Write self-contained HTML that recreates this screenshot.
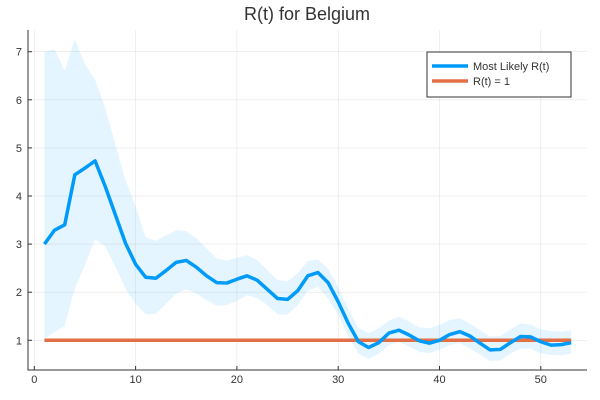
<!DOCTYPE html>
<html><head><meta charset="utf-8"><style>
body{margin:0;background:#fff}
svg{font-family:"Liberation Sans",sans-serif;display:block}
</style></head><body>
<svg id="chart" width="600" height="400" viewBox="0 0 600 400">
<rect width="600" height="400" fill="#fff"/>
<text x="307" y="20" text-anchor="middle" font-size="18" fill="#333">R(t) for Belgium</text>
<g id="grid"></g>
<path id="band" fill="#0099ff" fill-opacity="0.1"/>
<polyline id="one" fill="none" stroke="#e26f46" stroke-width="3.5"/>
<polyline id="mean" fill="none" stroke="#009af9" stroke-width="3.5" stroke-linejoin="round"/>
<g id="axes"></g>
<g>
<rect x="427" y="52" width="144" height="45" fill="#fff" stroke="#333" stroke-width="1"/>
<line x1="432" y1="66" x2="468" y2="66" stroke="#009af9" stroke-width="3.5"/>
<text x="473" y="70" font-size="11" fill="#333">Most Likely R(t)</text>
<line x1="432" y1="81" x2="468" y2="81" stroke="#e26f46" stroke-width="3.5"/>
<text x="473" y="85" font-size="11" fill="#333">R(t) = 1</text>
</g>
</svg>
<script>
const meanVals=[3.00,3.29,3.40,4.44,4.58,4.73,4.20,3.61,3.02,2.58,2.31,2.29,2.45,2.62,2.66,2.52,2.34,2.20,2.19,2.27,2.34,2.25,2.06,1.87,1.85,2.03,2.34,2.41,2.20,1.80,1.35,0.97,0.85,0.95,1.15,1.21,1.11,0.99,0.94,1.00,1.12,1.18,1.09,0.94,0.80,0.81,0.95,1.08,1.07,0.97,0.90,0.91,0.95];
const upperVals=[7.0,7.05,6.6,7.26,6.74,6.42,5.83,5.07,4.34,3.78,3.14,3.07,3.18,3.29,3.27,3.12,2.91,2.70,2.66,2.72,2.77,2.67,2.46,2.25,2.23,2.39,2.65,2.68,2.49,2.11,1.66,1.25,1.15,1.25,1.41,1.49,1.39,1.27,1.25,1.32,1.42,1.46,1.35,1.21,1.08,1.09,1.23,1.35,1.33,1.23,1.19,1.18,1.21];
const lowerVals=[1.03,1.17,1.30,2.08,2.56,3.10,2.95,2.53,2.08,1.76,1.54,1.55,1.76,1.97,2.06,1.97,1.83,1.72,1.73,1.82,1.94,1.88,1.73,1.54,1.54,1.73,2.03,2.11,1.87,1.53,1.08,0.72,0.61,0.72,0.90,0.97,0.87,0.76,0.73,0.80,0.90,0.94,0.83,0.70,0.57,0.58,0.72,0.83,0.83,0.73,0.70,0.69,0.72];
const xTicks=[0,10,20,30,40,50];
const yTicks=[1,2,3,4,5,6,7];
const X=t=>34.3+t*10.13, Y=v=>340.3-(v-1)*48.1;
const NS="http://www.w3.org/2000/svg";
const L=28,R=587,T=30,B=370;
const grid=document.getElementById('grid'),axes=document.getElementById('axes');
function mk(tag,attrs,parent){const e=document.createElementNS(NS,tag);for(const k in attrs)e.setAttribute(k,attrs[k]);parent.appendChild(e);return e;}
xTicks.forEach(t=>{
 const g=mk('line',{x1:X(t),x2:X(t),y1:T,y2:B,stroke:'#000','stroke-opacity':0.1,'stroke-width':0.6},grid);
 
 
 const tk=mk('line',{x1:X(t),x2:X(t),y1:B,y2:B-4,stroke:'#333'},axes);
 
 
 const tx=mk('text',{x:X(t),y:B+13,'text-anchor':'middle','font-size':11,fill:'#333'},axes);
 tx.textContent=t;
 
 
});
yTicks.forEach(v=>{
 const g=mk('line',{x1:L,x2:R,y1:Y(v),y2:Y(v),stroke:'#000','stroke-opacity':0.1,'stroke-width':0.6},grid);
 
 
 const tk=mk('line',{x1:L,x2:L+4,y1:Y(v),y2:Y(v),stroke:'#333'},axes);
 
 
 const tx=mk('text',{x:L-6,y:Y(v)+4,'text-anchor':'end','font-size':11,fill:'#333'},axes);
 tx.textContent=v;
 
 
});
const ax=mk('path',{d:`M${L},${T}V${B}H${R}`,fill:'none',stroke:'#333','stroke-width':1},axes);


const n=meanVals.length;
let d='';
upperVals.forEach((v,i)=>{d+=(i?'L':'M')+X(i+1)+','+Y(v);});
for(let i=n-1;i>=0;i--)d+='L'+X(i+1)+','+Y(lowerVals[i]);
document.getElementById('band').setAttribute('d',d+'Z');
document.getElementById('mean').setAttribute('points',meanVals.map((v,i)=>X(i+1)+','+Y(v)).join(' '));
document.getElementById('one').setAttribute('points',X(1)+','+Y(1)+' '+X(n)+','+Y(1));
</script>
</body></html>
